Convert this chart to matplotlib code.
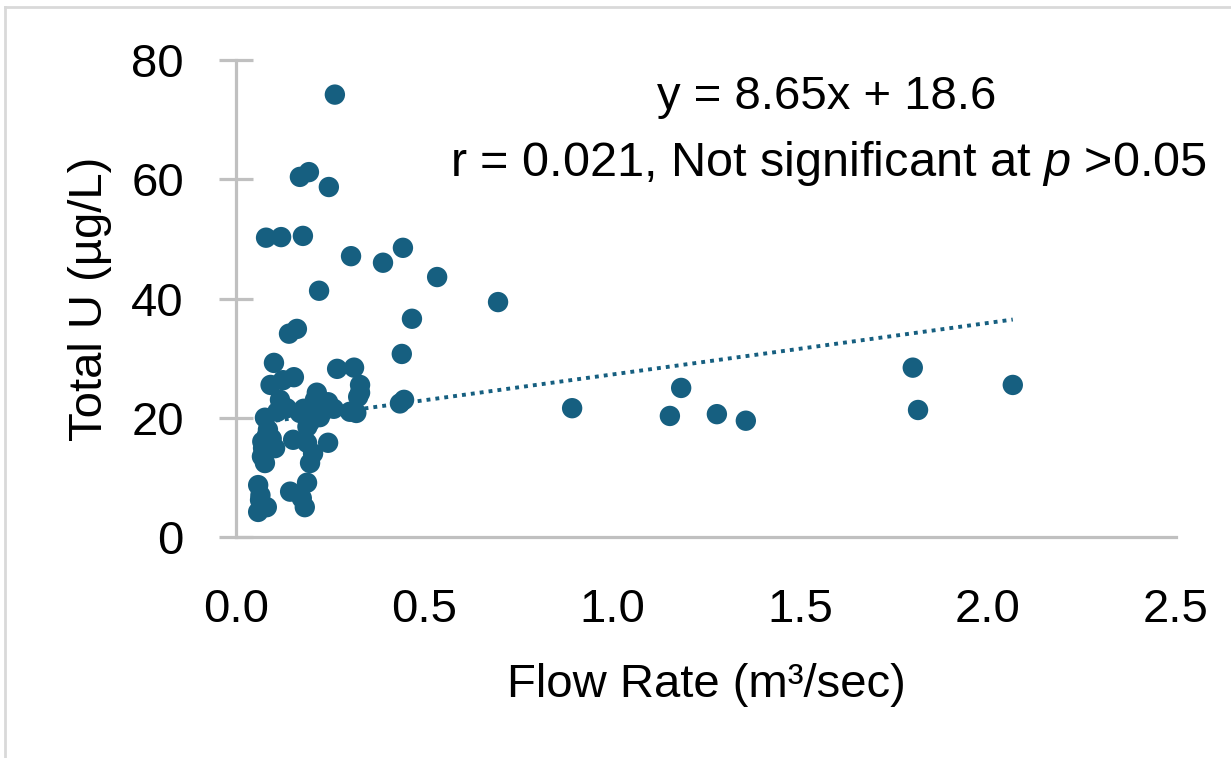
import matplotlib
matplotlib.use("Agg")
import matplotlib.pyplot as plt
import numpy as np
from matplotlib.lines import Line2D

plt.rcParams['font.family'] = ['Liberation Sans', 'DejaVu Sans']
plt.rcParams['mathtext.fontset'] = 'custom'
plt.rcParams['mathtext.rm'] = 'Liberation Sans'
plt.rcParams['mathtext.it'] = 'Liberation Sans:italic'

# flow rate (m3/sec) and total U (ug/L)
flow = [0.263, 0.170, 0.194, 0.247, 0.080, 0.120, 0.178, 0.306, 0.391, 0.444,
        0.535, 0.221, 0.697, 0.468, 0.141, 0.162, 0.441, 0.101, 0.269, 0.314,
        0.154, 0.125, 0.092, 0.330, 0.330, 0.325, 0.215, 0.245, 0.436, 0.447,
        0.303, 0.320, 0.117, 0.135, 0.170, 0.197, 0.223, 0.230, 0.077, 0.085,
        0.082, 0.072, 0.104, 0.077, 0.069, 0.152, 0.189, 0.245, 0.197, 0.205,
        0.189, 0.144, 0.183, 0.175, 0.059, 0.064, 0.082, 0.059, 0.065, 0.210,
        0.180, 0.230, 0.095, 0.070, 0.110, 0.260, 0.190,
        0.894, 1.154, 1.184, 1.279, 1.356, 1.800, 1.814, 2.066]
total_u = [74.2, 60.4, 61.2, 58.7, 50.2, 50.3, 50.5, 47.1, 46.0, 48.5,
           43.6, 41.3, 39.4, 36.6, 34.1, 34.9, 30.7, 29.2, 28.2, 28.4,
           26.8, 26.3, 25.5, 25.5, 24.2, 23.5, 24.2, 22.6, 22.4, 23.0,
           21.0, 20.8, 23.0, 21.6, 20.8, 19.3, 20.1, 22.0, 20.0, 18.0,
           17.0, 14.9, 14.9, 12.4, 13.5, 16.3, 15.8, 15.8, 12.4, 14.0,
           9.1, 7.6, 5.0, 6.5, 8.7, 6.2, 5.0, 4.2, 7.0, 23.0,
           21.5, 21.0, 16.5, 16.0, 21.0, 21.5, 18.5,
           21.6, 20.3, 25.0, 20.6, 19.5, 28.4, 21.3, 25.5]

slope = 8.65
intercept = 18.6
x_ticks = [0.0, 0.5, 1.0, 1.5, 2.0, 2.5]
y_ticks = [0, 20, 40, 60, 80]

blue = "#165f80"
grey = "#c0c0c0"

fig = plt.figure(figsize=(12.31, 7.58), dpi=100)
ax = fig.add_axes([0.1917, 0.2916, 0.7636, 0.6292])

ax.scatter(flow, total_u, s=215, color=blue, edgecolors='none', zorder=3)

xs = np.array([min(flow), max(flow)])
ax.plot(xs, slope * xs + intercept, linestyle=(0, (1, 1.3)), color=blue,
        linewidth=2.8, zorder=2)

ax.set_xlim(0, 2.5)
ax.set_ylim(0, 80)
ax.set_xticks(x_ticks)
ax.set_xticklabels([f"{v:.1f}" for v in x_ticks])
ax.set_yticks(y_ticks)

for side in ['top', 'right']:
    ax.spines[side].set_visible(False)
for side in ['left', 'bottom']:
    ax.spines[side].set_color(grey)
    ax.spines[side].set_linewidth(2.3)

ax.tick_params(axis='y', direction='inout', length=25, width=2.3, color=grey,
               labelsize=34, pad=25)
ax.tick_params(axis='x', length=0, labelsize=34, pad=37)

ax.set_xlabel("Flow Rate (m³/sec)", fontsize=34, labelpad=22)
ax.set_ylabel("Total U (µg/L)", fontsize=34, labelpad=14)

ax.text(0.628, 0.922, "y = 8.65x + 18.6", transform=ax.transAxes,
        ha='center', va='center', fontsize=34)
ax.text(0.630, 0.784, r"r = 0.021, Not significant at $\it{p}$ >0.05",
        transform=ax.transAxes, ha='center', va='center', fontsize=35)

# light border of the chart area
fig.add_artist(Line2D([0.004, 0.004], [0.0, 0.991], transform=fig.transFigure,
                      color="#d9d9d9", linewidth=2))
fig.add_artist(Line2D([0.004, 1.0], [0.991, 0.991], transform=fig.transFigure,
                      color="#d9d9d9", linewidth=2))

fig.savefig("out.png", dpi=100)
